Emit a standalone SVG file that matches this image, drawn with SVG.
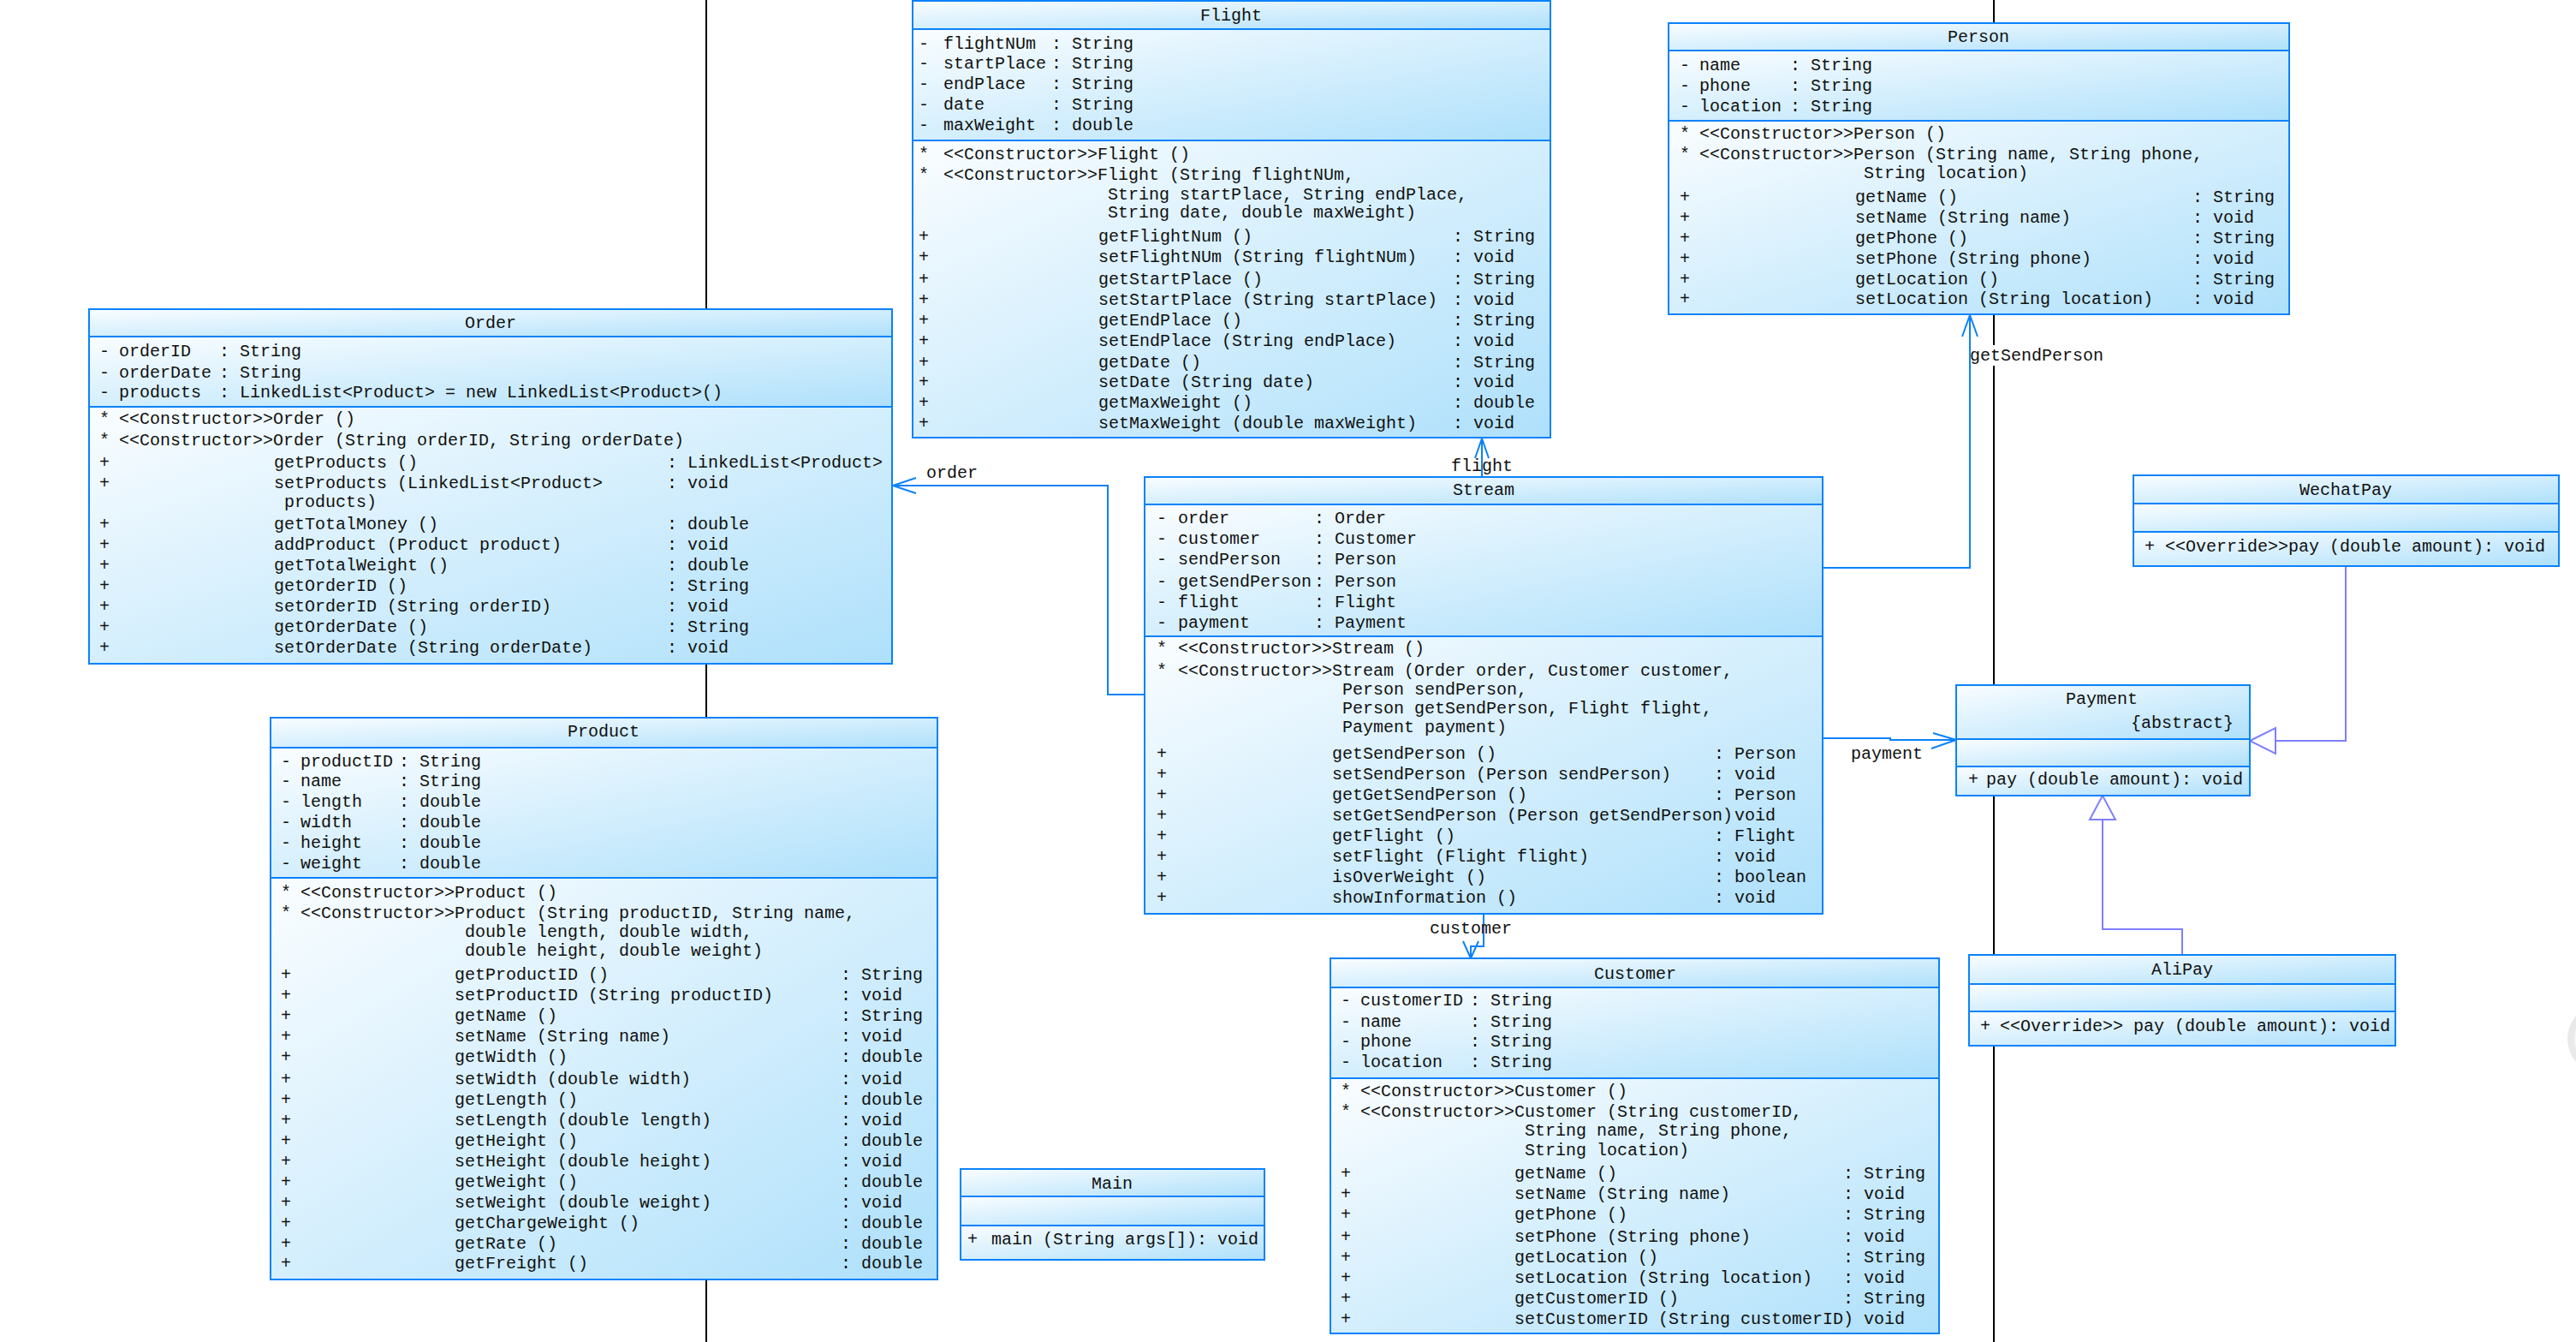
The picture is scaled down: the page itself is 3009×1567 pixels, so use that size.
<svg xmlns="http://www.w3.org/2000/svg" width="3009" height="1567" viewBox="0 0 3009 1567">
<style>
.cb{stroke:#0A82FA;stroke-width:2;fill:url(#g)}
.t{font-family:"Liberation Mono","DejaVu Sans Mono",monospace;font-size:20px;fill:#111}
.c{text-anchor:middle}
.ln{fill:none;stroke:#0A82FA;stroke-width:2}
.rl{fill:none;stroke:#7F7FFF;stroke-width:2}
.tri{fill:#ffffff;stroke:#7F7FFF;stroke-width:2}
.pg{stroke:#000;stroke-width:2}
</style>
<defs>
<linearGradient id="g" x1="0" y1="0" x2="1" y2="1">
<stop offset="0" stop-color="#FAFDFF"/>
<stop offset="1" stop-color="#AEE0FB"/>
</linearGradient>
</defs>
<rect x="0" y="0" width="3009" height="1567" fill="#ffffff"/>
<g id="pagelines">
<line class="pg" x1="825" y1="0" x2="825" y2="1567"/>
<line class="pg" x1="2329" y1="0" x2="2329" y2="1567"/>
</g>
<circle cx="3040" cy="1213" r="37" fill="#f6f6f6" stroke="#e9e9e9" stroke-width="8"/>

<g id="connectors">
<polyline class="ln" points="1337,811 1294,811 1294,567 1043,567"/>
<polyline class="ln" points="1070,558 1043,567 1070,576"/>
<text class="t" x="1082" y="558">order</text>
<line class="ln" x1="1731" y1="557" x2="1731" y2="512"/>
<polyline class="ln" points="1723,535 1731,512 1739,535"/>
<text class="t" x="1695" y="550">flight</text>
<polyline class="ln" points="2129,663 2301,663 2301,368"/>
<polyline class="ln" points="2292,393 2301,368 2310,393"/>
<rect x="2302" y="403" width="156" height="24" fill="#ffffff"/>
<text class="t" x="2301" y="421">getSendPerson</text>
<polyline class="ln" points="2129,862 2208,862 2208,864 2285,864"/>
<polyline class="ln" points="2258,856 2285,864 2256,874"/>
<text class="t" x="2162" y="886">payment</text>
<polyline class="ln" points="1733,1067 1733,1105 1718,1105 1718,1119"/>
<polyline class="ln" points="1709,1099 1718,1119 1727,1099"/>
<text class="t" x="1670" y="1090">customer</text>
<polyline class="rl" points="2740,661 2740,865 2658,865"/>
<polygon class="tri" points="2628,865 2658,850 2658,880"/>
<polyline class="rl" points="2549,1115 2549,1085 2456,1085 2456,957"/>
<polygon class="tri" points="2456,929 2441,957 2471,957"/>
</g>

<g id="Flight">
<rect class="cb" x="1066" y="1" width="745" height="33"/>
<rect class="cb" x="1066" y="34" width="745" height="130"/>
<rect class="cb" x="1066" y="164" width="745" height="347"/>
<text class="t c" x="1438" y="24">Flight</text>
<text class="t" y="57"><tspan x="1073">-</tspan><tspan x="1102">flightNUm</tspan><tspan x="1228">: String</tspan></text>
<text class="t" y="80"><tspan x="1073">-</tspan><tspan x="1102">startPlace</tspan><tspan x="1228">: String</tspan></text>
<text class="t" y="104"><tspan x="1073">-</tspan><tspan x="1102">endPlace</tspan><tspan x="1228">: String</tspan></text>
<text class="t" y="128"><tspan x="1073">-</tspan><tspan x="1102">date</tspan><tspan x="1228">: String</tspan></text>
<text class="t" y="152"><tspan x="1073">-</tspan><tspan x="1102">maxWeight</tspan><tspan x="1228">: double</tspan></text>
<text class="t" y="186"><tspan x="1073">*</tspan><tspan x="1102">&lt;&lt;Constructor&gt;&gt;Flight ()</tspan></text>
<text class="t" y="210"><tspan x="1073">*</tspan><tspan x="1102">&lt;&lt;Constructor&gt;&gt;Flight (String flightNUm,</tspan></text>
<text class="t" x="1294" y="233">String startPlace, String endPlace,</text>
<text class="t" x="1294" y="254">String date, double maxWeight)</text>
<text class="t" y="282"><tspan x="1073">+</tspan><tspan x="1283">getFlightNum ()</tspan><tspan x="1697">: String</tspan></text>
<text class="t" y="306"><tspan x="1073">+</tspan><tspan x="1283">setFlightNUm (String flightNUm)</tspan><tspan x="1697">: void</tspan></text>
<text class="t" y="332"><tspan x="1073">+</tspan><tspan x="1283">getStartPlace ()</tspan><tspan x="1697">: String</tspan></text>
<text class="t" y="356"><tspan x="1073">+</tspan><tspan x="1283">setStartPlace (String startPlace)</tspan><tspan x="1697">: void</tspan></text>
<text class="t" y="380"><tspan x="1073">+</tspan><tspan x="1283">getEndPlace ()</tspan><tspan x="1697">: String</tspan></text>
<text class="t" y="404"><tspan x="1073">+</tspan><tspan x="1283">setEndPlace (String endPlace)</tspan><tspan x="1697">: void</tspan></text>
<text class="t" y="429"><tspan x="1073">+</tspan><tspan x="1283">getDate ()</tspan><tspan x="1697">: String</tspan></text>
<text class="t" y="452"><tspan x="1073">+</tspan><tspan x="1283">setDate (String date)</tspan><tspan x="1697">: void</tspan></text>
<text class="t" y="476"><tspan x="1073">+</tspan><tspan x="1283">getMaxWeight ()</tspan><tspan x="1697">: double</tspan></text>
<text class="t" y="500"><tspan x="1073">+</tspan><tspan x="1283">setMaxWeight (double maxWeight)</tspan><tspan x="1697">: void</tspan></text>
</g>

<g id="Person">
<rect class="cb" x="1949" y="27" width="725" height="32"/>
<rect class="cb" x="1949" y="59" width="725" height="82"/>
<rect class="cb" x="1949" y="141" width="725" height="226"/>
<text class="t c" x="2311" y="49">Person</text>
<text class="t" y="82"><tspan x="1962">-</tspan><tspan x="1985">name</tspan><tspan x="2091">: String</tspan></text>
<text class="t" y="106"><tspan x="1962">-</tspan><tspan x="1985">phone</tspan><tspan x="2091">: String</tspan></text>
<text class="t" y="130"><tspan x="1962">-</tspan><tspan x="1985">location</tspan><tspan x="2091">: String</tspan></text>
<text class="t" y="162"><tspan x="1962">*</tspan><tspan x="1985">&lt;&lt;Constructor&gt;&gt;Person ()</tspan></text>
<text class="t" y="186"><tspan x="1962">*</tspan><tspan x="1985">&lt;&lt;Constructor&gt;&gt;Person (String name, String phone,</tspan></text>
<text class="t" x="2177" y="208">String location)</text>
<text class="t" y="236"><tspan x="1962">+</tspan><tspan x="2167">getName ()</tspan><tspan x="2561">: String</tspan></text>
<text class="t" y="260"><tspan x="1962">+</tspan><tspan x="2167">setName (String name)</tspan><tspan x="2561">: void</tspan></text>
<text class="t" y="284"><tspan x="1962">+</tspan><tspan x="2167">getPhone ()</tspan><tspan x="2561">: String</tspan></text>
<text class="t" y="308"><tspan x="1962">+</tspan><tspan x="2167">setPhone (String phone)</tspan><tspan x="2561">: void</tspan></text>
<text class="t" y="332"><tspan x="1962">+</tspan><tspan x="2167">getLocation ()</tspan><tspan x="2561">: String</tspan></text>
<text class="t" y="355"><tspan x="1962">+</tspan><tspan x="2167">setLocation (String location)</tspan><tspan x="2561">: void</tspan></text>
</g>

<g id="Order">
<rect class="cb" x="104" y="361" width="938" height="32"/>
<rect class="cb" x="104" y="393" width="938" height="82"/>
<rect class="cb" x="104" y="475" width="938" height="300"/>
<text class="t c" x="573" y="383">Order</text>
<text class="t" y="416"><tspan x="116">-</tspan><tspan x="139">orderID</tspan><tspan x="256">: String</tspan></text>
<text class="t" y="441"><tspan x="116">-</tspan><tspan x="139">orderDate</tspan><tspan x="256">: String</tspan></text>
<text class="t" y="464"><tspan x="116">-</tspan><tspan x="139">products</tspan><tspan x="256">: LinkedList&lt;Product&gt; = new LinkedList&lt;Product&gt;()</tspan></text>
<text class="t" y="495"><tspan x="116">*</tspan><tspan x="139">&lt;&lt;Constructor&gt;&gt;Order ()</tspan></text>
<text class="t" y="520"><tspan x="116">*</tspan><tspan x="139">&lt;&lt;Constructor&gt;&gt;Order (String orderID, String orderDate)</tspan></text>
<text class="t" y="546"><tspan x="116">+</tspan><tspan x="320">getProducts ()</tspan><tspan x="779">: LinkedList&lt;Product&gt;</tspan></text>
<text class="t" y="570"><tspan x="116">+</tspan><tspan x="320">setProducts (LinkedList&lt;Product&gt;</tspan><tspan x="779">: void</tspan></text>
<text class="t" x="332" y="592">products)</text>
<text class="t" y="618"><tspan x="116">+</tspan><tspan x="320">getTotalMoney ()</tspan><tspan x="779">: double</tspan></text>
<text class="t" y="642"><tspan x="116">+</tspan><tspan x="320">addProduct (Product product)</tspan><tspan x="779">: void</tspan></text>
<text class="t" y="666"><tspan x="116">+</tspan><tspan x="320">getTotalWeight ()</tspan><tspan x="779">: double</tspan></text>
<text class="t" y="690"><tspan x="116">+</tspan><tspan x="320">getOrderID ()</tspan><tspan x="779">: String</tspan></text>
<text class="t" y="714"><tspan x="116">+</tspan><tspan x="320">setOrderID (String orderID)</tspan><tspan x="779">: void</tspan></text>
<text class="t" y="738"><tspan x="116">+</tspan><tspan x="320">getOrderDate ()</tspan><tspan x="779">: String</tspan></text>
<text class="t" y="762"><tspan x="116">+</tspan><tspan x="320">setOrderDate (String orderDate)</tspan><tspan x="779">: void</tspan></text>
</g>

<g id="Product">
<rect class="cb" x="316" y="838" width="779" height="35"/>
<rect class="cb" x="316" y="873" width="779" height="152"/>
<rect class="cb" x="316" y="1025" width="779" height="469"/>
<text class="t c" x="705" y="860">Product</text>
<text class="t" y="895"><tspan x="328">-</tspan><tspan x="351">productID</tspan><tspan x="466">: String</tspan></text>
<text class="t" y="918"><tspan x="328">-</tspan><tspan x="351">name</tspan><tspan x="466">: String</tspan></text>
<text class="t" y="942"><tspan x="328">-</tspan><tspan x="351">length</tspan><tspan x="466">: double</tspan></text>
<text class="t" y="966"><tspan x="328">-</tspan><tspan x="351">width</tspan><tspan x="466">: double</tspan></text>
<text class="t" y="990"><tspan x="328">-</tspan><tspan x="351">height</tspan><tspan x="466">: double</tspan></text>
<text class="t" y="1014"><tspan x="328">-</tspan><tspan x="351">weight</tspan><tspan x="466">: double</tspan></text>
<text class="t" y="1048"><tspan x="328">*</tspan><tspan x="351">&lt;&lt;Constructor&gt;&gt;Product ()</tspan></text>
<text class="t" y="1072"><tspan x="328">*</tspan><tspan x="351">&lt;&lt;Constructor&gt;&gt;Product (String productID, String name,</tspan></text>
<text class="t" x="543" y="1094">double length, double width,</text>
<text class="t" x="543" y="1116">double height, double weight)</text>
<text class="t" y="1144"><tspan x="328">+</tspan><tspan x="531">getProductID ()</tspan><tspan x="982">: String</tspan></text>
<text class="t" y="1168"><tspan x="328">+</tspan><tspan x="531">setProductID (String productID)</tspan><tspan x="982">: void</tspan></text>
<text class="t" y="1192"><tspan x="328">+</tspan><tspan x="531">getName ()</tspan><tspan x="982">: String</tspan></text>
<text class="t" y="1216"><tspan x="328">+</tspan><tspan x="531">setName (String name)</tspan><tspan x="982">: void</tspan></text>
<text class="t" y="1240"><tspan x="328">+</tspan><tspan x="531">getWidth ()</tspan><tspan x="982">: double</tspan></text>
<text class="t" y="1266"><tspan x="328">+</tspan><tspan x="531">setWidth (double width)</tspan><tspan x="982">: void</tspan></text>
<text class="t" y="1290"><tspan x="328">+</tspan><tspan x="531">getLength ()</tspan><tspan x="982">: double</tspan></text>
<text class="t" y="1314"><tspan x="328">+</tspan><tspan x="531">setLength (double length)</tspan><tspan x="982">: void</tspan></text>
<text class="t" y="1338"><tspan x="328">+</tspan><tspan x="531">getHeight ()</tspan><tspan x="982">: double</tspan></text>
<text class="t" y="1362"><tspan x="328">+</tspan><tspan x="531">setHeight (double height)</tspan><tspan x="982">: void</tspan></text>
<text class="t" y="1386"><tspan x="328">+</tspan><tspan x="531">getWeight ()</tspan><tspan x="982">: double</tspan></text>
<text class="t" y="1410"><tspan x="328">+</tspan><tspan x="531">setWeight (double weight)</tspan><tspan x="982">: void</tspan></text>
<text class="t" y="1434"><tspan x="328">+</tspan><tspan x="531">getChargeWeight ()</tspan><tspan x="982">: double</tspan></text>
<text class="t" y="1458"><tspan x="328">+</tspan><tspan x="531">getRate ()</tspan><tspan x="982">: double</tspan></text>
<text class="t" y="1481"><tspan x="328">+</tspan><tspan x="531">getFreight ()</tspan><tspan x="982">: double</tspan></text>
</g>

<g id="Stream">
<rect class="cb" x="1337" y="557" width="792" height="32"/>
<rect class="cb" x="1337" y="589" width="792" height="154"/>
<rect class="cb" x="1337" y="743" width="792" height="324"/>
<text class="t c" x="1733" y="578">Stream</text>
<text class="t" y="611"><tspan x="1351">-</tspan><tspan x="1376">order</tspan><tspan x="1535">: Order</tspan></text>
<text class="t" y="635"><tspan x="1351">-</tspan><tspan x="1376">customer</tspan><tspan x="1535">: Customer</tspan></text>
<text class="t" y="659"><tspan x="1351">-</tspan><tspan x="1376">sendPerson</tspan><tspan x="1535">: Person</tspan></text>
<text class="t" y="685"><tspan x="1351">-</tspan><tspan x="1376">getSendPerson</tspan><tspan x="1535">: Person</tspan></text>
<text class="t" y="709"><tspan x="1351">-</tspan><tspan x="1376">flight</tspan><tspan x="1535">: Flight</tspan></text>
<text class="t" y="733"><tspan x="1351">-</tspan><tspan x="1376">payment</tspan><tspan x="1535">: Payment</tspan></text>
<text class="t" y="763"><tspan x="1351">*</tspan><tspan x="1376">&lt;&lt;Constructor&gt;&gt;Stream ()</tspan></text>
<text class="t" y="789"><tspan x="1351">*</tspan><tspan x="1376">&lt;&lt;Constructor&gt;&gt;Stream (Order order, Customer customer,</tspan></text>
<text class="t" x="1568" y="811">Person sendPerson,</text>
<text class="t" x="1568" y="833">Person getSendPerson, Flight flight,</text>
<text class="t" x="1568" y="855">Payment payment)</text>
<text class="t" y="886"><tspan x="1351">+</tspan><tspan x="1556">getSendPerson ()</tspan><tspan x="2002">: Person</tspan></text>
<text class="t" y="910"><tspan x="1351">+</tspan><tspan x="1556">setSendPerson (Person sendPerson)</tspan><tspan x="2002">: void</tspan></text>
<text class="t" y="934"><tspan x="1351">+</tspan><tspan x="1556">getGetSendPerson ()</tspan><tspan x="2002">: Person</tspan></text>
<text class="t" y="958"><tspan x="1351">+</tspan><tspan x="1556">setGetSendPerson (Person getSendPerson)</tspan><tspan x="2026">void</tspan></text>
<text class="t" y="982"><tspan x="1351">+</tspan><tspan x="1556">getFlight ()</tspan><tspan x="2002">: Flight</tspan></text>
<text class="t" y="1006"><tspan x="1351">+</tspan><tspan x="1556">setFlight (Flight flight)</tspan><tspan x="2002">: void</tspan></text>
<text class="t" y="1030"><tspan x="1351">+</tspan><tspan x="1556">isOverWeight ()</tspan><tspan x="2002">: boolean</tspan></text>
<text class="t" y="1054"><tspan x="1351">+</tspan><tspan x="1556">showInformation ()</tspan><tspan x="2002">: void</tspan></text>
</g>

<g id="Customer">
<rect class="cb" x="1554" y="1119" width="711" height="34"/>
<rect class="cb" x="1554" y="1153" width="711" height="106"/>
<rect class="cb" x="1554" y="1259" width="711" height="298"/>
<text class="t c" x="1910" y="1143">Customer</text>
<text class="t" y="1174"><tspan x="1566">-</tspan><tspan x="1589">customerID</tspan><tspan x="1717">: String</tspan></text>
<text class="t" y="1199"><tspan x="1566">-</tspan><tspan x="1589">name</tspan><tspan x="1717">: String</tspan></text>
<text class="t" y="1222"><tspan x="1566">-</tspan><tspan x="1589">phone</tspan><tspan x="1717">: String</tspan></text>
<text class="t" y="1246"><tspan x="1566">-</tspan><tspan x="1589">location</tspan><tspan x="1717">: String</tspan></text>
<text class="t" y="1280"><tspan x="1566">*</tspan><tspan x="1589">&lt;&lt;Constructor&gt;&gt;Customer ()</tspan></text>
<text class="t" y="1304"><tspan x="1566">*</tspan><tspan x="1589">&lt;&lt;Constructor&gt;&gt;Customer (String customerID,</tspan></text>
<text class="t" x="1781" y="1326">String name, String phone,</text>
<text class="t" x="1781" y="1349">String location)</text>
<text class="t" y="1376"><tspan x="1566">+</tspan><tspan x="1769">getName ()</tspan><tspan x="2153">: String</tspan></text>
<text class="t" y="1400"><tspan x="1566">+</tspan><tspan x="1769">setName (String name)</tspan><tspan x="2153">: void</tspan></text>
<text class="t" y="1424"><tspan x="1566">+</tspan><tspan x="1769">getPhone ()</tspan><tspan x="2153">: String</tspan></text>
<text class="t" y="1450"><tspan x="1566">+</tspan><tspan x="1769">setPhone (String phone)</tspan><tspan x="2153">: void</tspan></text>
<text class="t" y="1474"><tspan x="1566">+</tspan><tspan x="1769">getLocation ()</tspan><tspan x="2153">: String</tspan></text>
<text class="t" y="1498"><tspan x="1566">+</tspan><tspan x="1769">setLocation (String location)</tspan><tspan x="2153">: void</tspan></text>
<text class="t" y="1522"><tspan x="1566">+</tspan><tspan x="1769">getCustomerID ()</tspan><tspan x="2153">: String</tspan></text>
<text class="t" y="1546"><tspan x="1566">+</tspan><tspan x="1769">setCustomerID (String customerID)</tspan><tspan x="2177">void</tspan></text>
</g>

<g id="Payment">
<rect class="cb" x="2285" y="800" width="343" height="63"/>
<rect class="cb" x="2285" y="863" width="343" height="32"/>
<rect class="cb" x="2285" y="895" width="343" height="34"/>
<text class="t c" x="2455" y="822">Payment</text>
<text class="t" x="2489" y="850">{abstract}</text>
<text class="t" y="916"><tspan x="2299">+</tspan><tspan x="2320">pay (double amount): void</tspan></text>
</g>

<g id="WechatPay">
<rect class="cb" x="2492" y="555" width="497" height="33"/>
<rect class="cb" x="2492" y="588" width="497" height="33"/>
<rect class="cb" x="2492" y="621" width="497" height="40"/>
<text class="t c" x="2740" y="578">WechatPay</text>
<text class="t" y="644"><tspan x="2505">+</tspan><tspan x="2529">&lt;&lt;Override&gt;&gt;pay (double amount): void</tspan></text>
</g>

<g id="AliPay">
<rect class="cb" x="2300" y="1115" width="498" height="34"/>
<rect class="cb" x="2300" y="1149" width="498" height="32"/>
<rect class="cb" x="2300" y="1181" width="498" height="40"/>
<text class="t c" x="2549" y="1138">AliPay</text>
<text class="t" y="1204"><tspan x="2313">+</tspan><tspan x="2336">&lt;&lt;Override&gt;&gt; pay (double amount): void</tspan></text>
</g>

<g id="Main">
<rect class="cb" x="1122" y="1365" width="355" height="32"/>
<rect class="cb" x="1122" y="1397" width="355" height="34"/>
<rect class="cb" x="1122" y="1431" width="355" height="40"/>
<text class="t c" x="1299" y="1388">Main</text>
<text class="t" y="1453"><tspan x="1130">+</tspan><tspan x="1158">main (String args[]): void</tspan></text>
</g>
</svg>
